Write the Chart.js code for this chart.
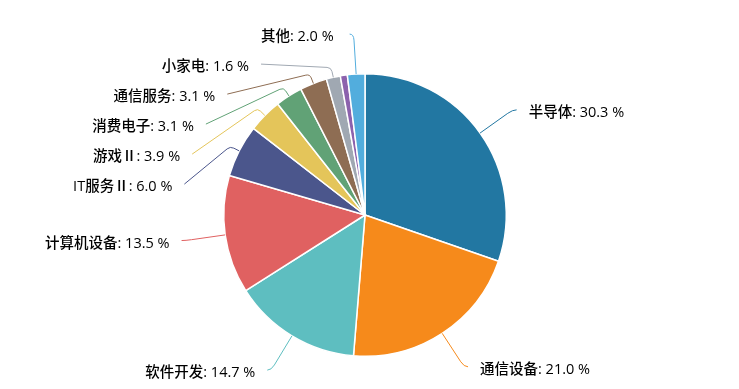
<!DOCTYPE html>
<html>
<head>
<meta charset="utf-8">
<script src="https://cdn.jsdelivr.net/npm/chart.js@4/dist/chart.umd.min.js"></script>
<style>
  html, body { margin: 0; padding: 0; background: #fff; }
  #c { display: block; }
</style>
</head>
<body>
<canvas id="c" width="739" height="389"></canvas>
<script>
// fatias no sentido horário a partir do topo (a roxa não tem rótulo)
const categories = ['半导体', '通信设备', '软件开发', '计算机设备', 'IT服务Ⅱ', '游戏Ⅱ', '消费电子', '通信服务', '小家电', '', '其他'];
const shares = [30.3, 21.0, 14.7, 13.5, 6.0, 3.9, 3.1, 3.1, 1.6, 0.8, 2.0];
const colors = ['#2277a2', '#f68a1b', '#5ebec0', '#e06161', '#4b568c', '#e4c55a', '#61a276', '#8e6d53', '#a0a8b2', '#8c62ad', '#52addd'];

const LEN1 = 40;      // tamanho da linha radial
const LEN2 = 4;       // gancho horizontal
const GAP = 12;       // distância até o texto
const SPACING = 30;   // espaço mínimo entre rótulos

// desenha a linha com uma curva suave no ponto do meio
function curvedLine(ctx, a, m, b, rad) {
  const d1 = Math.hypot(m[0] - a[0], m[1] - a[1]);
  const d2 = Math.hypot(b[0] - m[0], b[1] - m[1]);
  const r1 = Math.min(rad, d1), r2 = Math.min(rad, d2);
  const s = [m[0] - (m[0] - a[0]) / d1 * r1, m[1] - (m[1] - a[1]) / d1 * r1];
  const e = [m[0] + (b[0] - m[0]) / d2 * r2, m[1] + (b[1] - m[1]) / d2 * r2];
  ctx.beginPath();
  ctx.moveTo(a[0], a[1]);
  ctx.lineTo(s[0], s[1]);
  ctx.quadraticCurveTo(m[0], m[1], e[0], e[1]);
  ctx.lineTo(b[0], b[1]);
  ctx.stroke();
}

const outsideLabels = {
  id: 'outsideLabels',
  afterDatasetsDraw(chart) {
    const ctx = chart.ctx;
    const arcs = chart.getDatasetMeta(0).data;
    const items = [];

    arcs.forEach((arc, i) => {
      if (!categories[i]) return;
      const p = arc.getProps(['x', 'y', 'startAngle', 'endAngle', 'outerRadius'], true);
      const mid = (p.startAngle + p.endAngle) / 2;
      const ux = Math.cos(mid), uy = Math.sin(mid);
      const r = p.outerRadius;
      items.push({
        i, cx: p.x, cy: p.y, r, ux, uy,
        side: ux >= 0 ? 1 : -1,
        p0: [p.x + r * ux, p.y + r * uy],
        p1: [p.x + (r + LEN1) * ux, p.y + (r + LEN1) * uy],
        y: p.y + (r + LEN1) * uy,
        shifted: false
      });
    });

    // empurra os rótulos para baixo quando se sobrepõem
    [1, -1].forEach(side => {
      const list = items.filter(it => it.side === side).sort((a, b) => a.y - b.y);
      for (let k = 1; k < list.length; k++) {
        if (list[k].y < list[k - 1].y + SPACING) {
          list[k].y = list[k - 1].y + SPACING;
          list[k].shifted = true;
        }
      }
    });

    ctx.save();
    ctx.lineWidth = 1;
    ctx.font = '500 14.5px "Open Sans", "Noto Sans CJK SC", sans-serif';
    ctx.fillStyle = '#000';
    ctx.textBaseline = 'middle';

    items.forEach(it => {
      let end;
      ctx.strokeStyle = colors[it.i];
      if (it.shifted) {
        const R = it.r + LEN1 + 2;
        const dy = it.y - it.cy;
        const x = it.cx + it.side * Math.sqrt(Math.max(0, R * R - dy * dy));
        end = [x, it.y];
        const stub = [it.p0[0] + it.ux * 10, it.p0[1] + it.uy * 10];
        curvedLine(ctx, it.p0, stub, end, 4);
      } else {
        end = [it.p1[0] + it.side * LEN2, it.p1[1]];
        curvedLine(ctx, it.p0, it.p1, end, 6);
      }
      ctx.textAlign = it.side > 0 ? 'left' : 'right';
      const txt = categories[it.i] + ': ' + shares[it.i].toFixed(1) + ' %';
      const gap = it.side < 0 && Math.abs(it.ux) < 0.2 ? GAP + 4 : GAP;
      ctx.fillText(txt, end[0] + it.side * gap, end[1] + 3);
    });
    ctx.restore();
  }
};

new Chart(document.getElementById('c'), {
  type: 'pie',
  data: {
    labels: categories,
    datasets: [{
      data: shares,
      backgroundColor: colors,
      borderColor: '#fff',
      borderWidth: 1.5
    }]
  },
  options: {
    responsive: false,
    animation: false,
    layout: { padding: { left: 223, right: 232, top: 73, bottom: 32 } },
    plugins: {
      legend: { display: false },
      tooltip: { enabled: false }
    }
  },
  plugins: [outsideLabels]
});
</script>
</body>
</html>
